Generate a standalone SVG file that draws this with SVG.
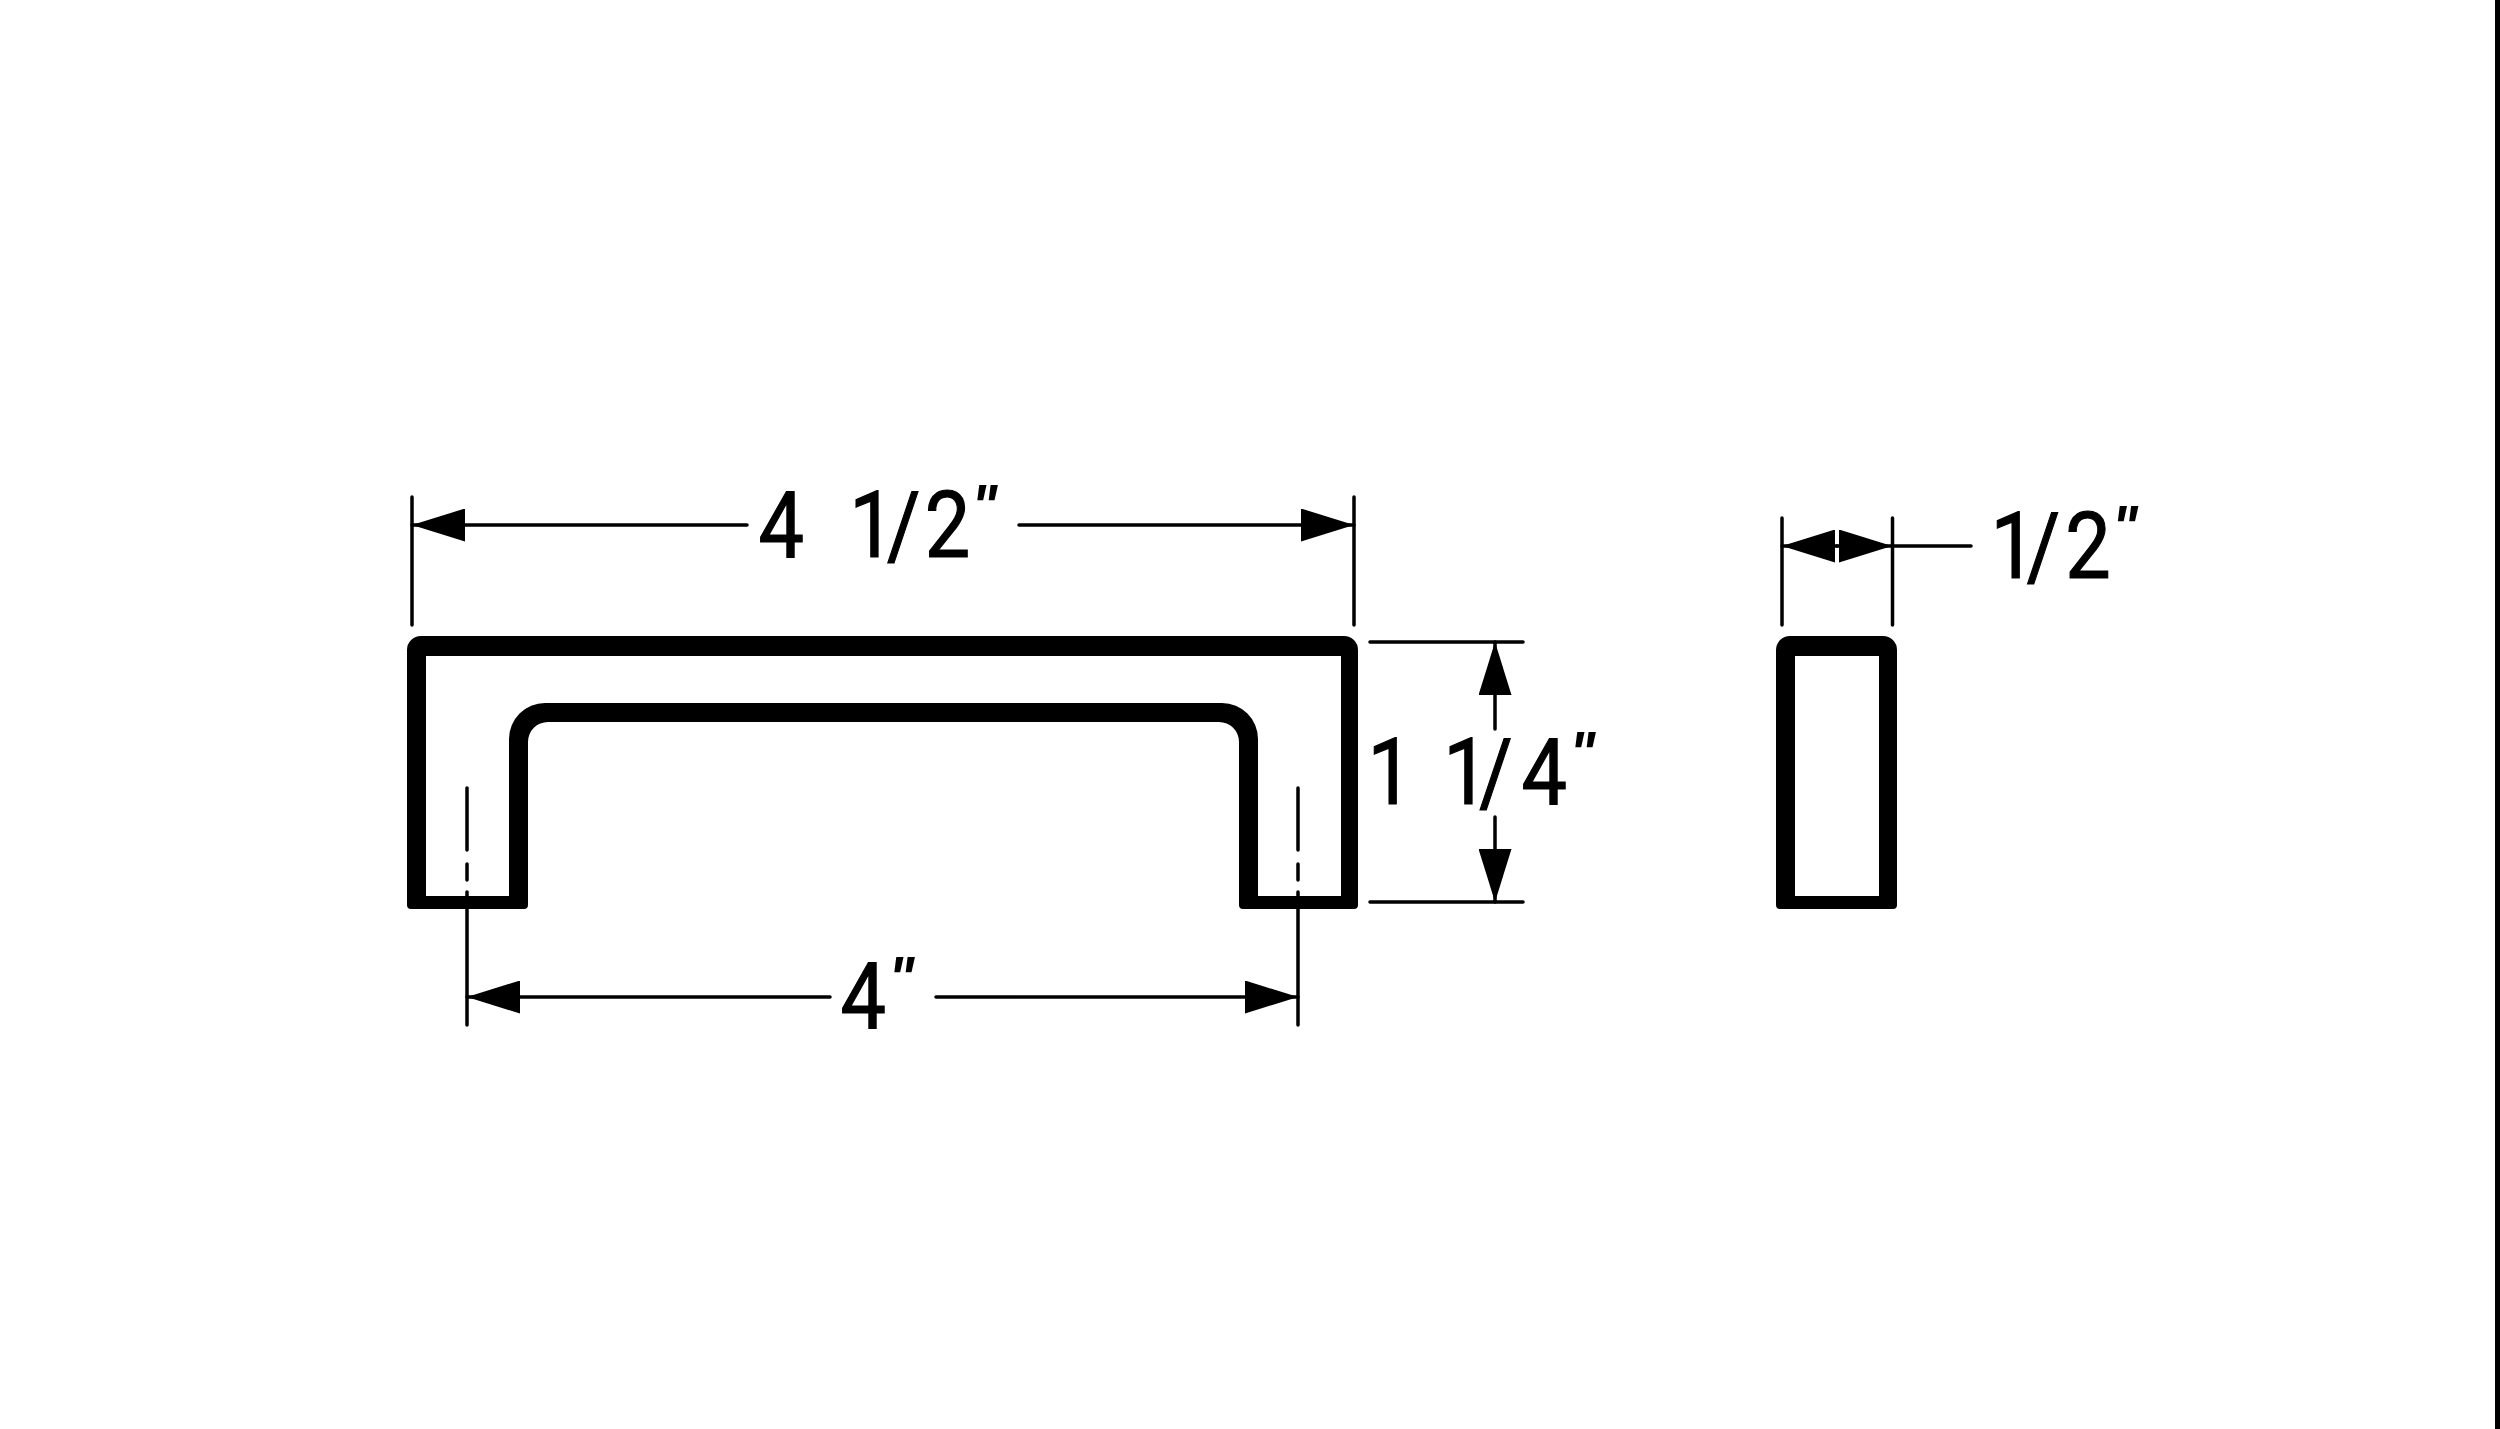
<svg xmlns="http://www.w3.org/2000/svg" width="2500" height="1429" viewBox="0 0 2500 1429">
<style>
.solid{fill:#000;fill-rule:evenodd}
.dim{stroke:#000;stroke-width:3.5;fill:none;stroke-linecap:round}
.lbl{font-family:Roboto,"Liberation Sans",sans-serif;font-size:92px;fill:#000;stroke:#000;stroke-width:1.2}
.q{font-family:"Liberation Sans",sans-serif;font-style:italic;font-weight:bold;font-size:62px;stroke:none}
</style>
<defs>
<marker id="ah" markerUnits="userSpaceOnUse" viewBox="0 0 53 33" markerWidth="53" markerHeight="33" refX="53" refY="16.500" orient="auto"><path d="M0,0L53,16.500L0,33Z" fill="#000"/></marker>
</defs>
<rect width="2500" height="1429" fill="#fff"/>
<rect x="2495" y="0" width="5" height="1429" fill="#000"/>
<g id="handle-front"><path class="solid" d="M407,650A14,14 0 0 1 421,636L1344,636A14,14 0 0 1 1358,650L1358,905Q1358,909 1354,909L1243,909Q1239,909 1239,905L1239,742A20,20 0 0 0 1219,722L548,722A20,20 0 0 0 528,742L528,905Q528,909 524,909L411,909Q407,909 407,905ZM426,656L426,896L509,896L509,739A36,36 0 0 1 545,703L1222,703A36,36 0 0 1 1258,739L1258,896L1341,896L1341,656Z"/></g>
<g id="handle-side"><path class="solid" d="M1776,650A14,14 0 0 1 1790,636L1883,636A14,14 0 0 1 1897,650L1897,905Q1897,909 1893,909L1780,909Q1776,909 1776,905ZM1795,656L1795,896L1879,896L1879,656Z"/></g>
<g id="connectors">
<path class="dim" d="M412,497V625M1354,497V625M1370,642H1523M1370,902H1523M467,788V850M467,864V880M467,892V1025M1298,788V850M1298,864V880M1298,892V1025M1782,518V625M1892.500,518V625M1892,546H1971"/>
<line class="dim" x1="747" y1="525" x2="412" y2="525" marker-end="url(#ah)"/>
<line class="dim" x1="1019" y1="525" x2="1354" y2="525" marker-end="url(#ah)"/>
<line class="dim" x1="1495" y1="729" x2="1495" y2="642" marker-end="url(#ah)"/>
<line class="dim" x1="1495" y1="817" x2="1495" y2="902" marker-end="url(#ah)"/>
<line class="dim" x1="830" y1="997" x2="467" y2="997" marker-end="url(#ah)"/>
<line class="dim" x1="936" y1="997" x2="1298" y2="997" marker-end="url(#ah)"/>
<line class="dim" x1="1837" y1="546" x2="1782" y2="546" marker-end="url(#ah)"/>
<line class="dim" x1="1837" y1="546" x2="1892" y2="546" marker-end="url(#ah)"/>
</g>
<g id="label-4-1-2"><text class="lbl" transform="scale(.88,1)" y="557" x="862 900 965 1008 1051">4 1/2<tspan class="q" x="1104" y="527">"</tspan></text></g>
<g id="label-1-1-4"><text class="lbl" transform="scale(.88,1)" y="804" x="1554 1610 1640 1681 1729">1 1/4<tspan class="q" x="1783.600" y="774">"</tspan></text></g>
<g id="label-4"><text class="lbl" transform="scale(.88,1)" y="1028" x="955">4<tspan class="q" x="1009.800" y="999">"</tspan></text></g>
<g id="label-1-2"><text class="lbl" transform="scale(.88,1)" y="578" x="2262 2303 2347">1/2<tspan class="q" x="2400" y="548">"</tspan></text></g>
</svg>
